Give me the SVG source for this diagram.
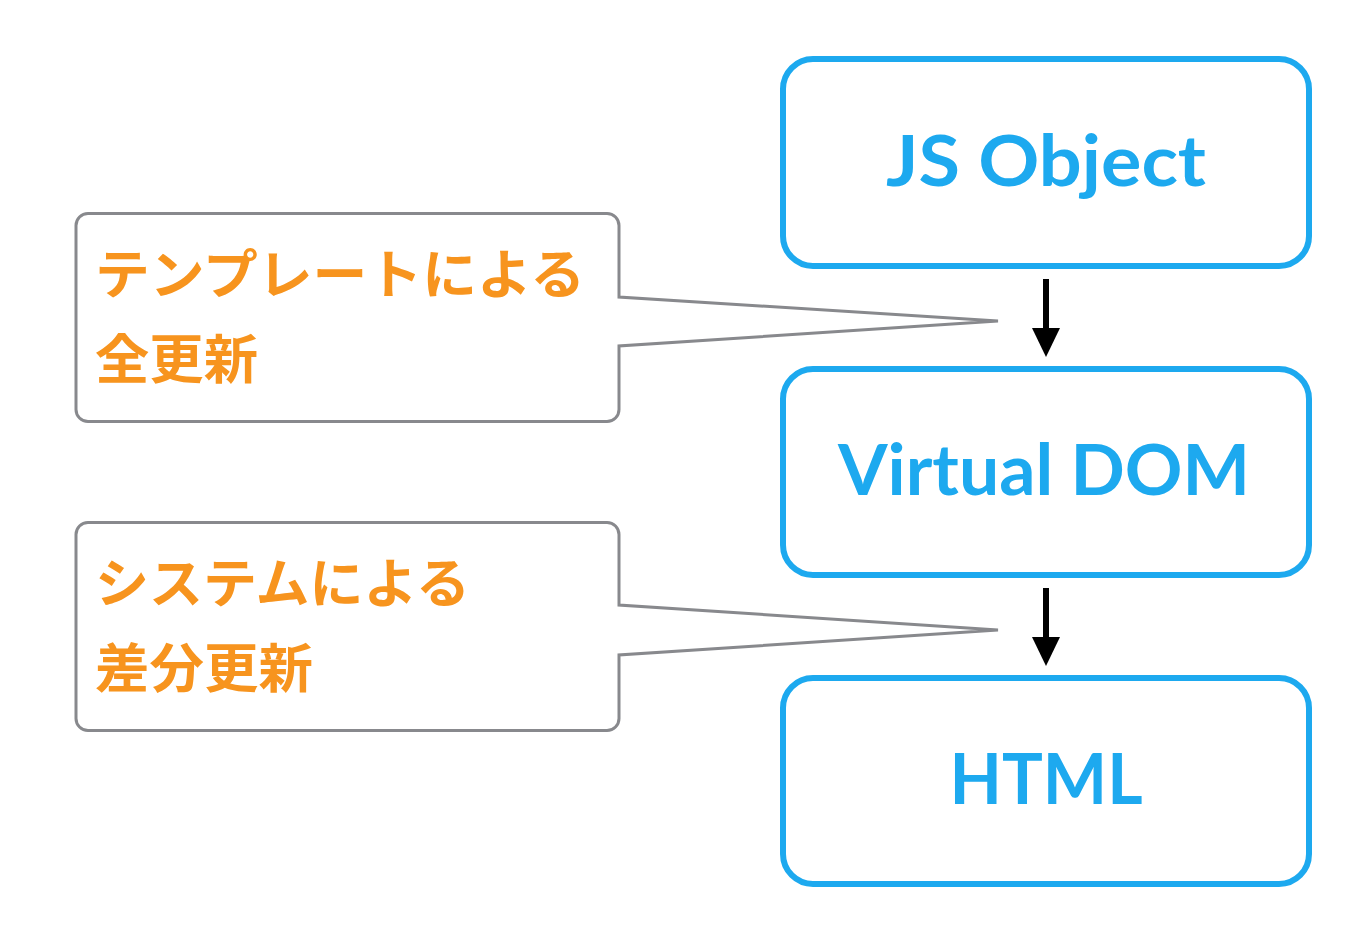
<svg xmlns="http://www.w3.org/2000/svg" width="1372" height="944" viewBox="0 0 1372 944">
<defs>
<style>
.node{fill:#fff;stroke:#1DA9EF;stroke-width:6}
.nt{fill:#1DA9EF;font-family:Lato,"Noto Sans",sans-serif;font-weight:700;font-size:70px;text-anchor:middle}
.call{fill:#fff;stroke:#88898D;stroke-width:3;stroke-linejoin:miter}
.ct{fill:#F7941E;font-family:"Noto Sans CJK JP","Noto Sans CJK SC",sans-serif;font-weight:700;font-size:53px}
.arr{stroke:#000;stroke-width:6;fill:none}
.head{fill:#000}
</style>
</defs>
<rect width="1372" height="944" fill="#fff"/>
<g id="connectors">
<line class="arr" x1="1046" y1="279" x2="1046" y2="330"/>
<polygon class="head" points="1032,328 1060,328 1046,357"/>
<line class="arr" x1="1046" y1="588" x2="1046" y2="639"/>
<polygon class="head" points="1032,637 1060,637 1046,666"/>
</g>
<g id="node-js">
<rect class="node" x="783" y="59" width="526" height="207" rx="30"/>
<text class="nt" x="1046" y="186" textLength="320" lengthAdjust="spacingAndGlyphs">JS Object</text>
</g>
<g id="node-vdom">
<rect class="node" x="783" y="369" width="526" height="206" rx="30"/>
<text class="nt" x="1044" y="495" textLength="412" lengthAdjust="spacingAndGlyphs">Virtual DOM</text>
</g>
<g id="node-html">
<rect class="node" x="783" y="678" width="526" height="206" rx="30"/>
<text class="nt" x="1046" y="804" textLength="193" lengthAdjust="spacingAndGlyphs">HTML</text>
</g>
<g id="callout-template">
<path class="call" d="M88,213.5 H607 A12,12 0 0 1 619,225.5 V297 L998,321 L619,346 V409.5 A12,12 0 0 1 607,421.5 H88 A12,12 0 0 1 76,409.5 V225.5 A12,12 0 0 1 88,213.5 Z"/>
<text class="ct" x="95" y="294" textLength="490" lengthAdjust="spacingAndGlyphs">テンプレートによる</text>
<text class="ct" x="95" y="379" textLength="163" lengthAdjust="spacingAndGlyphs">全更新</text>
</g>
<g id="callout-system">
<path class="call" d="M88,522.5 H607 A12,12 0 0 1 619,534.5 V605 L998,630 L619,655 V718.5 A12,12 0 0 1 607,730.5 H88 A12,12 0 0 1 76,718.5 V534.5 A12,12 0 0 1 88,522.5 Z"/>
<text class="ct" x="95" y="603" textLength="375" lengthAdjust="spacingAndGlyphs">システムによる</text>
<text class="ct" x="95" y="688" textLength="218" lengthAdjust="spacingAndGlyphs">差分更新</text>
</g>
</svg>
